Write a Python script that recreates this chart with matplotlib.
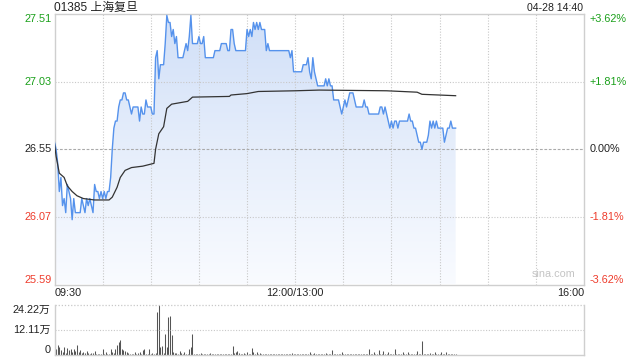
import numpy as np
import matplotlib
matplotlib.use("Agg")
import matplotlib.pyplot as plt
from matplotlib.colors import LinearSegmentedColormap
from matplotlib.transforms import blended_transform_factory

plt.rcParams['font.family'] = ['Liberation Sans', 'Noto Sans CJK SC', 'DejaVu Sans']

# ---------------- data ----------------
title = "01385 上海复旦"
stamp = "04-28 14:40"
prev_close = 26.55
price_ticks = [27.51, 27.03, 26.55, 26.07, 25.59]
time_labels = ["09:30", "12:00/13:00", "16:00"]
vol_ticks = [24.22, 12.11, 0]          # 万

# minute-by-minute price from 09:30 (minute 0) to 14:40 (minute 250)
price = [
    26.60, 26.55, 26.45, 26.25, 26.35, 26.15, 26.20, 26.10, 26.30, 26.25,
    26.20, 26.05, 26.20, 26.10, 26.10, 26.10, 26.10, 26.20, 26.15, 26.10,
    26.20, 26.15, 26.20, 26.15, 26.10, 26.30, 26.25, 26.25, 26.20, 26.25,
    26.20, 26.25, 26.20, 26.25, 26.25, 26.35, 26.55, 26.70, 26.75, 26.75,
    26.85, 26.90, 26.90, 26.95, 26.95, 26.90, 26.90, 26.85, 26.80, 26.85,
    26.85, 26.85, 26.85, 26.75, 26.85, 26.80, 26.80, 26.90, 26.85, 26.85,
    26.85, 26.80, 26.80, 27.20, 27.25, 27.05, 27.15, 27.15, 27.15, 27.30,
    27.50, 27.45, 27.45, 27.35, 27.40, 27.30, 27.35, 27.20, 27.20, 27.20,
    27.20, 27.25, 27.30, 27.25, 27.35, 27.50, 27.30, 27.30, 27.30, 27.30,
    27.35, 27.30, 27.30, 27.35, 27.20, 27.20, 27.20, 27.20, 27.20, 27.20,
    27.25, 27.25, 27.25, 27.25, 27.30, 27.30, 27.30, 27.30, 27.25, 27.25,
    27.40, 27.40, 27.30, 27.25, 27.25, 27.25, 27.25, 27.25, 27.25, 27.25,
    27.40, 27.35, 27.40, 27.35, 27.45, 27.40, 27.45, 27.40, 27.45, 27.40,
    27.40, 27.40, 27.25, 27.30, 27.25, 27.25, 27.25, 27.25, 27.25, 27.25,
    27.25, 27.25, 27.25, 27.25, 27.25, 27.25, 27.25, 27.20, 27.25, 27.10,
    27.10, 27.10, 27.10, 27.10, 27.10, 27.15, 27.15, 27.15, 27.20, 27.10,
    27.05, 27.20, 27.10, 27.05, 27.00, 27.00, 27.00, 27.00, 27.00, 27.05,
    27.00, 27.05, 27.00, 27.00, 26.90, 26.90, 26.90, 26.90, 26.85, 26.80,
    26.85, 26.90, 26.85, 26.90, 26.95, 26.95, 26.95, 26.90, 26.85, 26.85,
    26.85, 26.85, 26.85, 26.90, 26.85, 26.85, 26.80, 26.80, 26.80, 26.80,
    26.80, 26.80, 26.80, 26.85, 26.85, 26.80, 26.85, 26.80, 26.75, 26.70,
    26.75, 26.70, 26.75, 26.75, 26.70, 26.75, 26.75, 26.75, 26.75, 26.75,
    26.75, 26.80, 26.75, 26.75, 26.70, 26.70, 26.65, 26.60, 26.60, 26.55,
    26.60, 26.60, 26.60, 26.65, 26.75, 26.70, 26.75, 26.70, 26.75, 26.70,
    26.70, 26.70, 26.70, 26.60, 26.65, 26.70, 26.70, 26.75, 26.70, 26.70,
    26.70,
]

# average-price line (minute, value)
avg_min = [0, 1, 2, 3, 6, 8, 11, 14, 18, 25, 34, 36, 39, 41, 44, 48, 55, 62,
           63, 65, 68, 70, 73, 83, 86, 109, 110, 120, 127, 150, 165, 207, 226,
           229, 250]
avg_val = [26.59, 26.50, 26.44, 26.38, 26.35, 26.29, 26.25, 26.22, 26.20,
           26.19, 26.19, 26.21, 26.28, 26.35, 26.40, 26.42, 26.43, 26.45,
           26.55, 26.66, 26.71, 26.84, 26.87, 26.89, 26.92, 26.925, 26.935,
           26.945, 26.96, 26.965, 26.97, 26.965, 26.955, 26.94, 26.93]

# minute volume, in 万 shares
volume = [
    5.2, 3.0, 5.0, 3.9, 2.3, 1.5, 3.9, 1.0, 3.6, 2.3,
    3.0, 1.5, 3.0, 2.0, 4.7, 1.5, 2.3, 1.0, 1.5, 0.8,
    2.0, 0.8, 0.5, 1.0, 1.0, 2.0, 0.7, 0.5, 0.4, 0.6,
    2.7, 0.7, 1.5, 0.5, 0.7, 3.0, 1.5, 0.8, 3.0, 4.7,
    6.5, 7.2, 3.0, 2.6, 2.0, 1.5, 0.8, 0.7, 0.7, 0.5,
    1.5, 0.6, 1.0, 1.5, 0.5, 2.3, 3.0, 0.5, 0.7, 3.0,
    0.5, 1.0, 0.7, 1.2, 20.9, 24.22, 3.9, 4.2, 0.8, 10.0,
    3.9, 18.4, 18.7, 9.6, 1.5, 0.8, 1.0, 0.6, 2.0, 1.0,
    0.5, 1.5, 0.5, 0.7, 3.0, 3.9, 10.0, 0.6, 0.7, 0.5,
    0.4, 1.0, 0.5, 0.4, 0.3, 0.6, 0.5, 0.8, 0.4, 0.5,
    0.6, 0.4, 0.5, 0.3, 0.5, 0.4, 0.6, 0.3, 0.4, 0.5,
    0.6, 4.2, 0.8, 1.5, 2.0, 1.0, 0.5, 0.6, 1.0, 0.5,
    1.5, 0.6, 0.4, 3.5, 1.5, 0.5, 1.5, 0.6, 1.0, 0.4,
    0.5, 0.7, 0.4, 0.6, 0.3, 0.5, 0.4, 0.6, 0.5, 0.3,
    0.5, 0.4, 0.6, 0.5, 0.3, 0.4, 0.5, 0.6, 1.0, 0.4,
    0.5, 0.6, 0.4, 0.5, 0.3, 0.7, 0.5, 0.4, 0.6, 1.5,
    0.5, 0.4, 1.0, 0.6, 0.5, 0.4, 0.6, 0.5, 0.7, 1.0,
    0.5, 0.6, 0.4, 2.3, 0.5, 0.6, 0.4, 0.5, 0.6, 1.5,
    0.5, 0.4, 0.6, 0.5, 0.4, 0.6, 0.5, 0.4, 0.6, 0.5,
    0.6, 0.4, 0.5, 0.6, 0.5, 0.4, 2.7, 0.6, 0.5, 1.5,
    0.5, 0.6, 2.3, 0.5, 0.6, 2.0, 0.5, 0.6, 1.5, 0.5,
    0.6, 0.5, 2.7, 0.6, 0.5, 0.4, 0.6, 1.5, 0.5, 0.6,
    1.5, 0.5, 0.6, 0.4, 0.5, 0.6, 2.0, 0.5, 0.6, 6.6,
    0.5, 0.6, 0.4, 0.5, 1.0, 0.6, 0.5, 1.5, 0.4, 0.6,
    0.5, 1.5, 0.6, 0.4, 1.5, 0.5, 0.7, 0.6, 0.4, 0.3,
    0.5,
]

# ---------------- styling ----------------
GREEN = '#1aa01a'
RED = '#ee3b2b'
TXT = '#222222'
GRID = '#c8c8c8'
BORDER = '#cfcfcf'
TOTAL_MIN = 330

W, H = 640, 360
fig = plt.figure(figsize=(W / 100, H / 100), dpi=100)

def box(l, t, r, b):
    return [l / W, 1 - b / H, (r - l) / W, (b - t) / H]

ax = fig.add_axes(box(54.5, 14, 584, 284.5))
axv = fig.add_axes(box(54.5, 305, 584, 355))

x = np.arange(len(price))
p = np.array(price)
ymin, ymax = price_ticks[-1], price_ticks[0]

# gradient fill under the price line
poly = ax.fill_between(x, p, ymin, facecolor='none', edgecolor='none')
cmap = LinearSegmentedColormap.from_list('g', ['#d0dff8', '#e6eefb', '#f9fbff'])
grad = np.linspace(0, 1, 256).reshape(-1, 1)
im = ax.imshow(grad, extent=[x[0], x[-1], ymin, ymax], aspect='auto',
               origin='upper', cmap=cmap, zorder=1, interpolation='bilinear')
im.set_clip_path(poly.get_paths()[0], transform=ax.transData)

ax.plot(x, p, color='#5592ec', lw=1.0, zorder=3)
ax.plot(avg_min, avg_val, color='#333333', lw=0.9, zorder=4)

ax.set_xlim(0, TOTAL_MIN)
ax.set_ylim(ymin, ymax)
ax.set_xticks([])
ax.set_yticks([])
for s in ax.spines.values():
    s.set_color(BORDER)
    s.set_linewidth(1.0)

# grid
for m in range(30, TOTAL_MIN, 30):
    ax.axvline(m, color=GRID, lw=0.8, ls=(0, (1, 1.5)), zorder=2)
for v in price_ticks[1:-1]:
    if abs(v - prev_close) < 1e-9:
        ax.axhline(v, color='#aaaaaa', lw=0.8, ls=(0, (2.5, 1.5)), zorder=2)
    else:
        ax.axhline(v, color=GRID, lw=0.8, ls=(0, (1, 1.5)), zorder=2)

# price labels
ytr = ax.get_yaxis_transform()
n = len(price_ticks)
for i, v in enumerate(price_ticks):
    col = GREEN if v > prev_close + 1e-9 else (RED if v < prev_close - 1e-9 else TXT)
    va = 'top' if i == 0 else ('bottom' if i == n - 1 else 'center')
    dy = -1 if i == 0 else 0
    pct = (v - prev_close) / prev_close * 100
    plab = f"{pct:+.2f}%" if abs(pct) > 1e-9 else "0.00%"
    ax.text(-0.006, v, f"{v:.2f}", transform=ytr, ha='right', va=va,
            fontsize=7.8, color=col)
    ax.text(1.011, v, plab, transform=ytr, ha='left', va=va,
            fontsize=7.8, color=col)

# time labels
xtr = ax.get_xaxis_transform()
ax.text(0, -0.031, time_labels[0], transform=xtr, ha='left', va='center',
        fontsize=7.8, color=TXT)
ax.text(150, -0.031, time_labels[1], transform=xtr, ha='center', va='center',
        fontsize=7.8, color=TXT)
ax.text(TOTAL_MIN, -0.031, time_labels[2], transform=xtr, ha='right',
        va='center', fontsize=7.8, color=TXT)

# header
fig.text(54.5 / W, 1 - 8 / H, title, ha='left', va='center', fontsize=8.6,
         color=TXT)
fig.text(583 / W, 1 - 8 / H, stamp, ha='right', va='center', fontsize=7.6,
         color=TXT)

# watermark
ax.text(0.943, 0.02, "sina.com", transform=ax.transAxes, ha='center',
        va='bottom', fontsize=7.8, color='#c4c4c4')

# ---------------- volume ----------------
axv.vlines(np.arange(len(volume)), 0, volume, color='#555555', lw=0.75)
axv.set_xlim(0, TOTAL_MIN)
axv.set_ylim(0, vol_ticks[0])
axv.set_xticks([])
axv.set_yticks([])
for k in ['left', 'right', 'bottom']:
    axv.spines[k].set_color(BORDER)
    axv.spines[k].set_linewidth(1.0)
axv.spines['top'].set_visible(False)
axv.axhline(vol_ticks[0], color=GRID, lw=0.9, ls=(0, (1, 1.5)), clip_on=False)
axv.axhline(vol_ticks[1], color=GRID, lw=0.8, ls=(0, (1, 1.5)))

vtr = axv.get_yaxis_transform()
for i, v in enumerate(vol_ticks):
    lab = "0" if v == 0 else f"{v:.2f}万"
    va = 'top' if i == 0 else ('bottom' if v == 0 else 'center')
    yy = v
    axv.text(-0.008, yy, lab, transform=vtr, ha='right', va=va,
             fontsize=7.8, color=TXT)

fig.savefig("out.png", dpi=100)
